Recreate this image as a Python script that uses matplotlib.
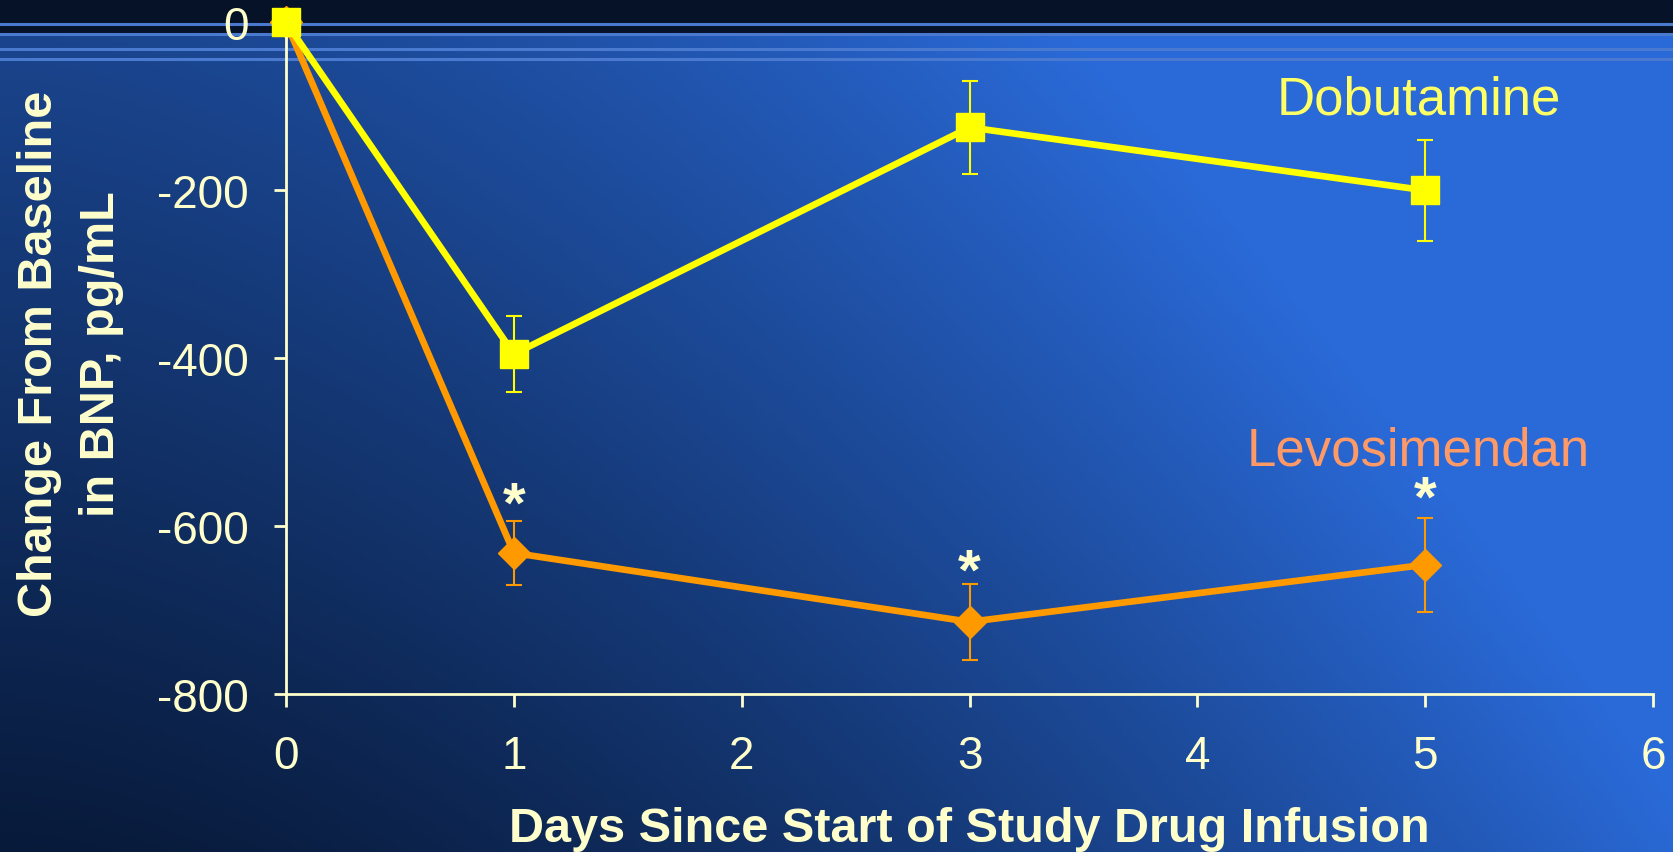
import numpy as np
import matplotlib
matplotlib.use('Agg')
import matplotlib.pyplot as plt
from matplotlib.patches import Rectangle

plt.rcParams['font.family'] = ['Liberation Sans', 'DejaVu Sans']
plt.rcParams['axes.unicode_minus'] = False

#Data
days = [0, 1, 3, 5]
dobutamine = [0, -395, -125, -200]
dobutamine_err = [0, 45, 55, 60]
levosimendan = [0, -632, -714, -646]
levosimendan_err = [0, 38, 45, 56]
sig_days = [1, 3, 5]
sig_y = [-577, -657, -570]
xticks = [0, 1, 2, 3, 4, 5, 6]
yticks = [0, -200, -400, -600, -800]

txt = '#FFFFCC'
yellow = '#FFFF00'
orange = '#FF9900'

fig = plt.figure(figsize=(16.74, 8.53), dpi=100)

#Background gradient
bg = fig.add_axes([0, 0, 1, 1], zorder=-10)
gx, gy = np.meshgrid(np.linspace(0, 1, 400), np.linspace(1, 0, 200))
t = np.clip(0.97 * gx**1.6 + 0.55 * gy, 0, 1)[..., None]
dark = np.array([8, 26, 58]) / 255
bright = np.array([42, 106, 216]) / 255
bg.imshow(dark + t * (bright - dark), aspect='auto', extent=[0, 1, 0, 1])
bg.add_patch(Rectangle((0, 1 - 34 / 853), 1, 34 / 853, color='#061228'))
for yl in [25, 35, 50, 60]:
    bg.axhline(1 - yl / 853, color='#4a7ad0', lw=2.2)
bg.set_xlim(0, 1)
bg.set_ylim(0, 1)
bg.axis('off')

ax = fig.add_axes([0.1709, 0.1852, 0.8166, 0.7873])
ax.patch.set_visible(False)

ax.errorbar(days, dobutamine, yerr=dobutamine_err, color=yellow, lw=4.8,
            marker='s', ms=20, mec=yellow, ecolor=yellow, elinewidth=1.5,
            capsize=6, capthick=1.5, clip_on=False, zorder=3)
ax.errorbar(days, levosimendan, yerr=levosimendan_err, color=orange, lw=4.8,
            marker='D', ms=16, mec=orange, ecolor=orange, elinewidth=1.5,
            capsize=6, capthick=1.5, clip_on=False, zorder=2)

for d, y in zip(sig_days, sig_y):
    ax.text(d, y, '*', color=txt, fontsize=42, fontweight='bold',
            ha='center', va='center')

ax.text(4.97, -92, 'Dobutamine', color='#FFFF66', fontsize=38,
        ha='center', va='center')
ax.text(4.97, -510, 'Levosimendan', color='#FF9966', fontsize=38,
        ha='center', va='center')

ax.set_xlim(0, 6)
ax.set_ylim(-800, 0)
ax.set_xticks(xticks)
ax.set_yticks(yticks)
for s in ['top', 'right']:
    ax.spines[s].set_visible(False)
for s in ['left', 'bottom']:
    ax.spines[s].set_color(txt)
    ax.spines[s].set_linewidth(2)
ax.tick_params(axis='both', colors=txt, labelsize=33, length=9, width=2, direction='out')
ax.tick_params(axis='x', pad=20)
ax.tick_params(axis='y', pad=18)

ax.set_xlabel('Days Since Start of Study Drug Infusion', color=txt,
              fontsize=35, fontweight='bold', labelpad=20)
fig.text(0.042, 0.585, 'Change From Baseline\nin BNP, pg/mL', color=txt,
         fontsize=35, fontweight='bold', rotation=90, ha='center', va='center',
         linespacing=1.5)

fig.savefig('out.png', dpi=100)
